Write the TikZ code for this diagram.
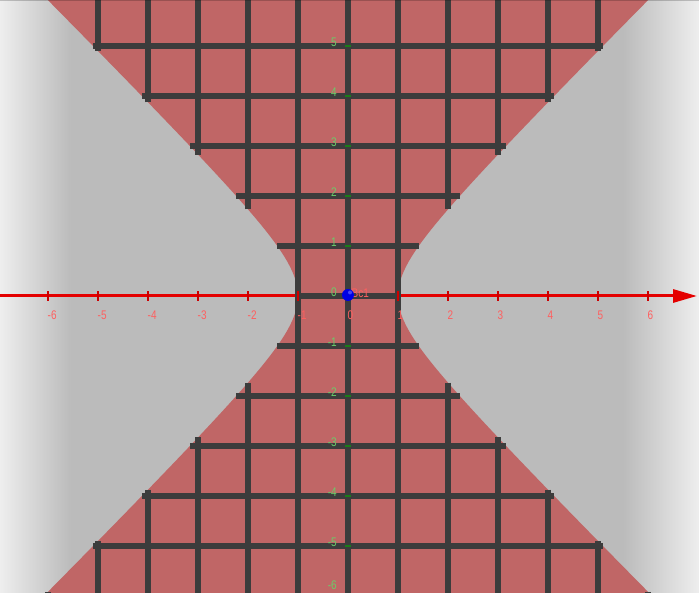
\documentclass[tikz,border=0pt]{standalone}
\usepackage{fontspec}
\setmainfont{Liberation Sans}
\newfontfamily\labfont[FakeStretch=0.8]{Liberation Sans}
\usetikzlibrary{arrows.meta}
\definecolor{bggray}{RGB}{187,187,187}
\definecolor{edgewhite}{RGB}{238,238,238}
\definecolor{regred}{RGB}{192,102,102}
\definecolor{gridc}{RGB}{60,60,60}
\definecolor{axred}{RGB}{228,0,0}
\definecolor{tickred}{RGB}{205,0,0}
\definecolor{xlab}{RGB}{255,95,95}
\definecolor{ylab}{RGB}{105,205,105}
\definecolor{ytick}{RGB}{25,125,25}
\definecolor{ptblue}{RGB}{0,0,228}
\begin{document}
\begin{tikzpicture}[x=50pt,y=50pt,
  gridline/.style={draw=gridc,line width=5.5pt},
  axisline/.style={draw=axred,line width=3pt,-{Triangle[length=24pt,width=13pt]}},
  xtick/.style={draw=tickred,line width=2pt},
  ytickmark/.style={draw=ytick,line width=2.5pt},
  labfnt/.style={font=\labfont\fontsize{12.5}{12.5}\selectfont,inner sep=0pt},
  xlabtext/.style={labfnt,text=xlab},
  ylabtext/.style={labfnt,text=ylab,anchor=east},
]
\useasboundingbox (-6.96,-5.94) rectangle (7.02,5.92);
\clip (-6.96,-5.94) rectangle (7.02,5.92);
% background
\fill[bggray] (-6.96,-5.94) rectangle (7.02,5.92);
\shade[left color=edgewhite,right color=bggray] (-6.96,-5.94) rectangle (-5.54,5.92);
\shade[left color=bggray,right color=edgewhite] (5.5,-5.94) rectangle (7.02,5.92);
% region between hyperbola branches
\fill[regred] plot[domain=-6.3:6.3,samples=120,variable=\t] ({sqrt(1+\t*\t)},\t)
  -- plot[domain=6.3:-6.3,samples=120,variable=\t] ({-sqrt(1+\t*\t)},\t) -- cycle;
% x axis
\coordinate (axstart) at (-6.96,0);
\coordinate (axend) at (6.98,0);
\draw[axisline] (axstart) -- (axend);
% horizontal grid lines
\foreach \k in {-6,...,6} {
  \pgfmathsetmacro\w{sqrt(1+\k*\k)}
  \draw[gridline] (-\w,\k) -- (\w,\k);
}
% vertical grid lines
\foreach \k in {-1,0,1} {
  \draw[gridline] (\k,-6.3) -- (\k,6.3);
}
\foreach \k in {2,...,6} {
  \pgfmathsetmacro\h{sqrt(\k*\k-1)}
  \draw[gridline] (\k,\h) -- (\k,6.3);
  \draw[gridline] (\k,-\h) -- (\k,-6.3);
  \draw[gridline] (-\k,\h) -- (-\k,6.3);
  \draw[gridline] (-\k,-\h) -- (-\k,-6.3);
}
% x ticks and labels
\foreach \k in {-6,...,-1} {
  \draw[xtick] (\k,-0.1) -- (\k,0.1);
  \node[xlabtext,anchor=north west] (xl\k) at (\k-0.01,-0.29) {-\the\numexpr-\k\relax};
}
\foreach \k in {1,...,6} {
  \draw[xtick] (\k,-0.1) -- (\k,0.1);
}
\foreach \k in {0,...,6} {
  \node[xlabtext,anchor=north] (xlp\k) at (\k+0.05,-0.29) {\k};
}
% y ticks and labels
\foreach \k in {-6,...,-1,1,2,...,6} {
  \draw[ytickmark] (-0.06,\k) -- (0.06,\k);
}
\foreach \k in {-5,...,5} {
  \node[ylabtext] (yl\k) at (-0.22,\k+0.08) {\ifnum\k<0 -\the\numexpr-\k\relax\else\k\fi};
}
\node[labfnt,text=ylab,anchor=south east] (ylm6) at (-0.22,-5.88) {-6};
% point and label
\node[labfnt,text=xlab,anchor=west] (clab) at (0.07,0.06) {Bc1};
\fill[ptblue] (0,0.02) circle (0.12);
\fill[blue!55!white,opacity=0.6] (0.04,0.07) circle (0.04);
\node[inner sep=0pt] (ptA) at (0,0.02) {};
% top edge shade
\draw[black,opacity=0.2,line width=2pt] (-6.96,5.92) -- (7.02,5.92);
\end{tikzpicture}
\end{document}
